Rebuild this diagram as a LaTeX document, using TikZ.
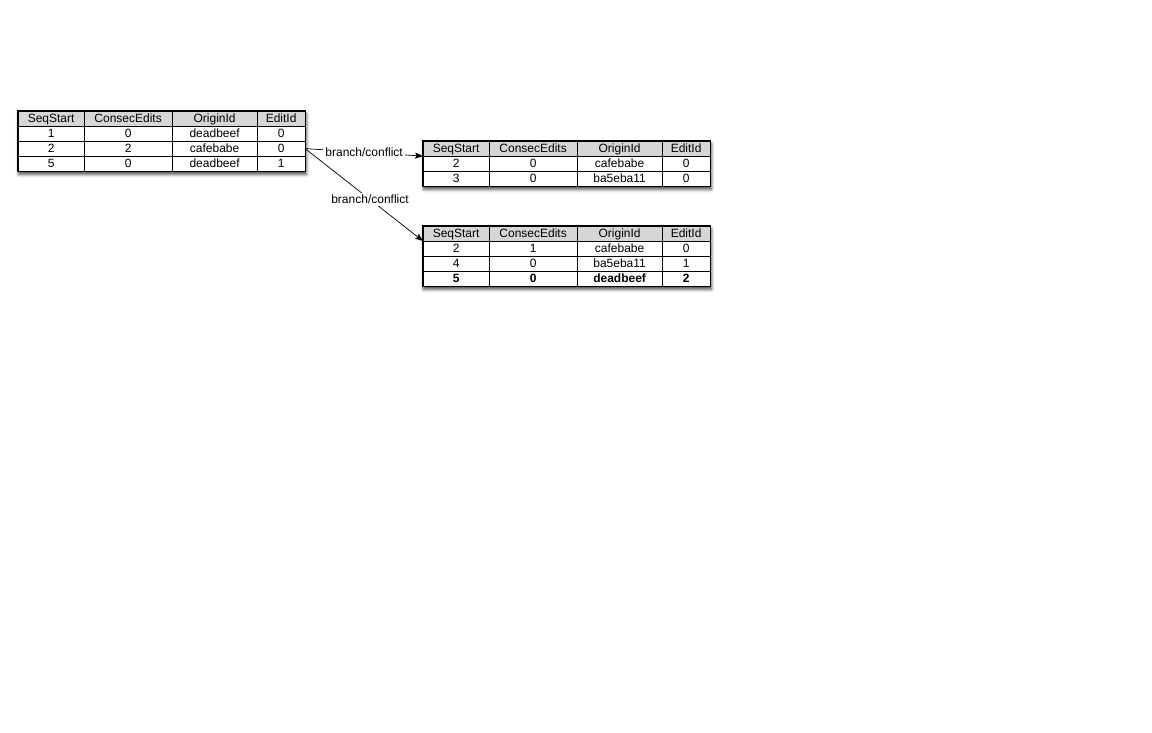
\documentclass[tikz,border=0pt]{standalone}
\usepackage{fontspec}
\setmainfont{Liberation Sans}
\usetikzlibrary{matrix,shadows.blur,arrows.meta}
\newcommand{\tabfont}{\fontsize{12}{13}\selectfont}
\definecolor{headgray}{HTML}{D6D6D6}
\begin{document}
\begin{tikzpicture}[x=1pt, y=-1pt, thick,
seq table/.style={matrix of nodes, draw, line width=1.2pt, fill=white, inner sep=0pt,
  anchor=north west, column sep=-0.8pt, row sep=-0.8pt,
  blur shadow={shadow xshift=1pt, shadow yshift=-3pt, shadow blur radius=3pt, shadow opacity=70},
  nodes={draw, line width=0.8pt, outer sep=0pt, anchor=center, minimum height=15,
    text height=8.7pt, text depth=0.5pt, inner sep=0pt, font=\tabfont},
  column 1/.style={nodes={minimum width=66}},
  column 2/.style={nodes={minimum width=88}},
  column 3/.style={nodes={minimum width=85}},
  column 4/.style={nodes={minimum width=48}},
  row 1/.style={nodes={fill=headgray}}},
branch edge/.style={line width=0.7pt, -{Stealth[length=8pt,width=6pt,inset=1.5pt]}},
edge label/.style={fill=white, inner sep=2pt, font=\tabfont}]
\useasboundingbox (0,0) rectangle (1152,733);
\matrix[seq table] (tab1) at (17.1,110.1) {
SeqStart & ConsecEdits & OriginId & EditId \\
1 & 0 & deadbeef & 0 \\
2 & 2 & cafebabe & 0 \\
5 & 0 & deadbeef & 1 \\
};
\matrix[seq table] (tab2) at (422.1,140.1) {
SeqStart & ConsecEdits & OriginId & EditId \\
2 & 0 & cafebabe & 0 \\
3 & 0 & ba5eba11 & 0 \\
};
\matrix[seq table, row 4/.style={nodes={font=\tabfont\bfseries}}] (tab3) at (422.1,225.1) {
SeqStart & ConsecEdits & OriginId & EditId \\
2 & 1 & cafebabe & 0 \\
4 & 0 & ba5eba11 & 1 \\
5 & 0 & deadbeef & 2 \\
};
\draw[branch edge] (tab1-3-4.east) -- node[edge label, pos=0.5]{branch/conflict} (tab2-1-1.south west);
\draw[branch edge] (tab1-3-4.east) -- node[edge label, pos=0.55]{branch/conflict} (tab3-1-1.south west);
\end{tikzpicture}
\end{document}
